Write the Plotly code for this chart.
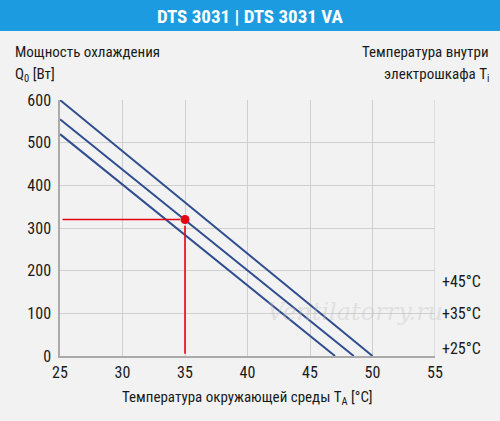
import plotly.graph_objects as go

# Data
ambient_temp = [25, 50]            # x of line ends for T_i = +45
cap_45 = [600, 0]
ambient_temp_35 = [25, 48.5]
cap_35 = [555, 0]
ambient_temp_25 = [25, 47.0]
cap_25 = [520, 0]
series_labels = ["+45°C", "+35°C", "+25°C"]
label_y = [175, 100, 18]

op_point_x = [35]
op_point_y = [320]
red_h_x = [25.2, 34.6]
red_h_y = [320, 320]
red_v_x = [35, 35]
red_v_y = [305, 5]

x_ticks = [25, 30, 35, 40, 45, 50, 55]
y_ticks = [0, 100, 200, 300, 400, 500, 600]

FONT = "Liberation Sans Narrow, Roboto Condensed, Arial Narrow, Roboto, sans-serif"
BLUE = "#2f4d8f"
RED = "#e30613"
BG = "#f2f2f2"
TXT = "#1a1a1a"

fig = go.Figure()
for xs, ys in [(ambient_temp, cap_45), (ambient_temp_35, cap_35), (ambient_temp_25, cap_25)]:
    fig.add_trace(go.Scatter(x=xs, y=ys, mode="lines", line=dict(color=BLUE, width=2),
                             showlegend=False, hoverinfo="skip"))
fig.add_trace(go.Scatter(x=red_h_x, y=red_h_y, mode="lines", line=dict(color=RED, width=1.6),
                         showlegend=False, hoverinfo="skip"))
fig.add_trace(go.Scatter(x=red_v_x, y=red_v_y, mode="lines", line=dict(color=RED, width=1.6),
                         showlegend=False, hoverinfo="skip"))
fig.add_trace(go.Scatter(x=op_point_x, y=op_point_y, mode="markers",
                         marker=dict(color=RED, size=9), showlegend=False, hoverinfo="skip"))

# plot area in pixels: x 60.5..435, y 100..355.7
L, R, T, B = 60, 65, 100, 65
pw = 500 - L - R
ph = 421 - T - B

def px_to_paper_x(px):
    return (px - L) / pw

def px_to_paper_y(py):
    return (421 - B - py) / ph

fig.add_shape(type="rect", xref="paper", yref="paper",
              x0=px_to_paper_x(-5), x1=px_to_paper_x(505),
              y0=px_to_paper_y(31), y1=px_to_paper_y(-5),
              fillcolor="#1c9be0", line=dict(width=0), layer="below")

annotations = [
    dict(text="<b>DTS 3031 | DTS 3031 VA</b>", x=px_to_paper_x(250), y=px_to_paper_y(16),
         xanchor="center", yanchor="middle", font=dict(size=19, color="white", family=FONT)),
    dict(text="Мощность охлаждения", x=px_to_paper_x(13), y=px_to_paper_y(52),
         xanchor="left", yanchor="middle", font=dict(size=15, color=TXT, family=FONT)),
    dict(text="Q<sub>0</sub> [Вт]", x=px_to_paper_x(13), y=px_to_paper_y(75),
         xanchor="left", yanchor="middle", font=dict(size=15, color=TXT, family=FONT)),
    dict(text="Температура внутри", x=px_to_paper_x(491), y=px_to_paper_y(52),
         xanchor="right", yanchor="middle", font=dict(size=15, color=TXT, family=FONT)),
    dict(text="электрошкафа T<sub>i</sub>", x=px_to_paper_x(491), y=px_to_paper_y(75),
         xanchor="right", yanchor="middle", font=dict(size=15, color=TXT, family=FONT)),
    dict(text="Температура окружающей среды T<sub>A</sub> [°C]", x=0.5, y=px_to_paper_y(398),
         xanchor="center", yanchor="middle", font=dict(size=15, color=TXT, family=FONT)),
    dict(text="<i>Ventilatorry.ru</i>", x=px_to_paper_x(355), y=px_to_paper_y(312),
         xanchor="center", yanchor="middle", font=dict(size=24, color="rgba(190,190,190,0.35)", family="DejaVu Serif")),
]
for lab, yv in zip(series_labels, label_y):
    annotations.append(dict(text=lab, xref="paper", yref="y", x=px_to_paper_x(440), y=yv,
                            xanchor="left", yanchor="middle",
                            font=dict(size=16, color=TXT, family=FONT)))
for a in annotations:
    a.setdefault("xref", "paper")
    a.setdefault("yref", "paper")
    a["showarrow"] = False
fig.update_layout(annotations=annotations)

fig.update_layout(
    width=500, height=421,
    margin=dict(l=L, r=R, t=T, b=B),
    paper_bgcolor=BG, plot_bgcolor=BG,
    font=dict(family=FONT, size=16, color=TXT),
    xaxis=dict(range=[25, 55], tickvals=x_ticks, ticktext=[str(v) for v in x_ticks],
               showgrid=True, gridcolor="#cfcfcf", gridwidth=1.3, zeroline=False,
               showline=True, linecolor="#aaaaaa", linewidth=1.5, mirror=False,
               ticks="", ticklabelstandoff=1, fixedrange=True),
    yaxis=dict(range=[0, 600], tickvals=y_ticks, ticktext=[str(v) for v in y_ticks],
               showgrid=True, gridcolor="#cfcfcf", gridwidth=1.3, zeroline=False,
               showline=True, linecolor="#aaaaaa", linewidth=1.5,
               ticks="", ticklabelstandoff=4, fixedrange=True),
)
# right border line at x=55
fig.add_shape(type="line", xref="x", yref="paper", x0=55, x1=55, y0=0, y1=1,
              line=dict(color="#cfcfcf", width=1.3), layer="below")

fig.write_html("out.html", config={"displayModeBar": False},
               post_script="document.body.style.margin='0';document.body.style.background='#f2f2f2';")
